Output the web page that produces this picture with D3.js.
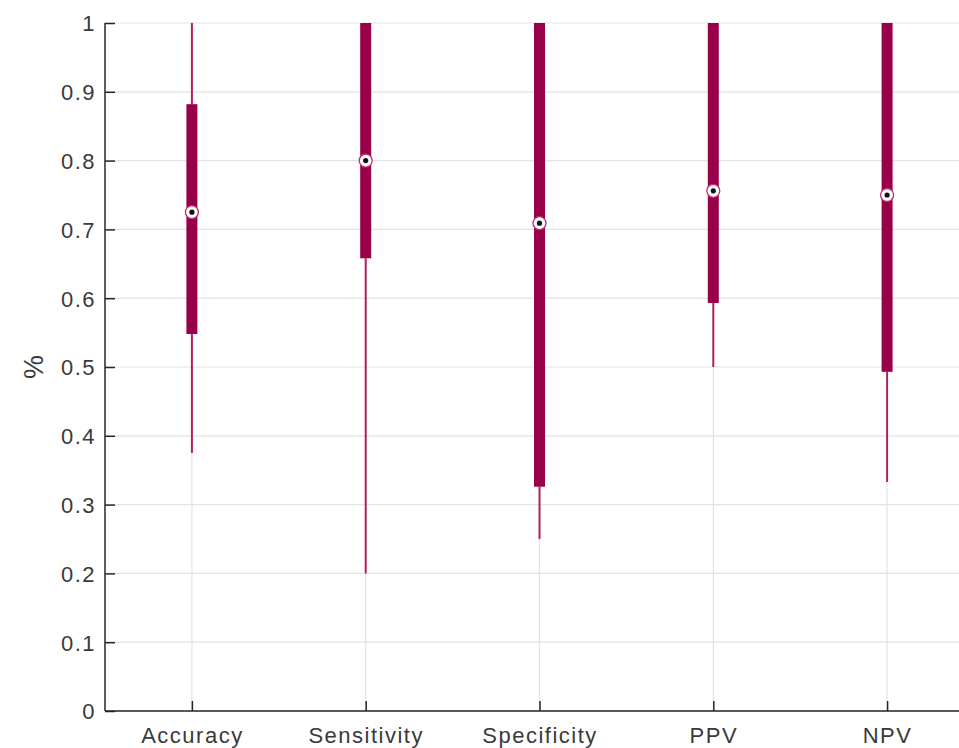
<!DOCTYPE html>
<html>
<head>
<meta charset="utf-8">
<script src="https://cdn.jsdelivr.net/npm/d3@7"></script>
<style>
  body { margin: 0; background: #fff; }
  text { font-family: 'Liberation Sans', Arial, sans-serif; }
</style>
</head>
<body>
<svg id="chart" width="959" height="748"></svg>
<script>
// categories and box statistics
const categories = ['Accuracy', 'Sensitivity', 'Specificity', 'PPV', 'NPV'];
const lowerWhisker = [0.375, 0.20, 0.25, 0.50, 0.333];
const q1 = [0.548, 0.658, 0.326, 0.593, 0.493];
const median = [0.725, 0.80, 0.709, 0.756, 0.75];
const q3 = [0.882, 1.0, 1.0, 1.0, 1.0];
const upperWhisker = [1.0, 1.0, 1.0, 1.0, 1.0];
const yTicks = [0, 0.1, 0.2, 0.3, 0.4, 0.5, 0.6, 0.7, 0.8, 0.9, 1];

const boxColor = '#98004a';
const whiskerColor = '#b0205f';

const svg = d3.select('#chart');

// scales: x positions 1..5 with limits 0.5..5.5 (right side cropped by window)
const x = d3.scaleLinear().domain([0.5, 5.5]).range([105, 974]);
const y = d3.scaleLinear().domain([0, 1]).range([711, 23]);

const data = categories.map((c, i) => ({
  name: c,
  pos: i + 1,
  lo: lowerWhisker[i],
  q1: q1[i],
  med: median[i],
  q3: q3[i],
  hi: upperWhisker[i],
}));

// grid
const grid = svg.append('g');
grid.selectAll('.hgrid')
  .data(yTicks)
  .join('line')
  .attr('x1', x(0.5))
  .attr('x2', x(5.5))
  .attr('y1', (d) => y(d))
  .attr('y2', (d) => y(d))
  .attr('stroke', '#e3e3e3')
  .attr('stroke-width', 1.2);
grid.selectAll('.vgrid')
  .data(data)
  .join('line')
  .attr('x1', (d) => x(d.pos))
  .attr('x2', (d) => x(d.pos))
  .attr('y1', y(0))
  .attr('y2', y(1))
  .attr('stroke', '#e3e3e3')
  .attr('stroke-width', 1.2);

// boxes
const boxes = svg.append('g');
const g = boxes.selectAll('g').data(data).join('g');

g.append('line')
  .attr('x1', (d) => x(d.pos))
  .attr('x2', (d) => x(d.pos))
  .attr('y1', (d) => y(d.lo))
  .attr('y2', (d) => y(d.q1))
  .attr('stroke', whiskerColor)
  .attr('stroke-width', 2);
g.append('line')
  .attr('x1', (d) => x(d.pos))
  .attr('x2', (d) => x(d.pos))
  .attr('y1', (d) => y(d.q3))
  .attr('y2', (d) => y(d.hi))
  .attr('stroke', whiskerColor)
  .attr('stroke-width', 2);

g.append('rect')
  .attr('x', (d) => x(d.pos) - 5.5)
  .attr('width', 11)
  .attr('y', (d) => y(d.q3))
  .attr('height', (d) => y(d.q1) - y(d.q3))
  .attr('fill', boxColor);

// median marker
g.append('circle')
  .attr('cx', (d) => x(d.pos))
  .attr('cy', (d) => y(d.med))
  .attr('r', 6.5)
  .attr('fill', '#fff')
  .attr('stroke', '#c0306f')
  .attr('stroke-width', 1.3);
g.append('circle')
  .attr('cx', (d) => x(d.pos))
  .attr('cy', (d) => y(d.med))
  .attr('r', 2.6)
  .attr('fill', '#111');

// axes
const axisColor = '#262626';
const yAxis = svg.append('g').attr('transform', `translate(${x(0.5)},0)`)
  .call(d3.axisLeft(y).tickValues(yTicks).tickSize(-10).tickPadding(9)
    .tickFormat((d) => d3.format('')(+d.toFixed(1))));
const xAxis = svg.append('g').attr('transform', `translate(0,${y(0)})`)
  .call(d3.axisBottom(x).tickValues(data.map((d) => d.pos)).tickSize(-10).tickPadding(16)
    .tickFormat((d, i) => categories[i]));

[yAxis, xAxis].forEach((a) => {
  a.select('.domain').attr('stroke', axisColor).attr('stroke-width', 1.5)
    .attr('d', a === yAxis ? `M0,${y(1)}V${y(0)}` : `M${x(0.5)},0H${x(5.5)}`);
  a.selectAll('.tick line').attr('stroke', axisColor).attr('stroke-width', 1.5);
  a.selectAll('.tick text')
    .attr('fill', '#3a3a3a')
    .attr('font-size', 22)
    .attr('letter-spacing', 1.5)
    .attr('font-family', "'Liberation Sans', Arial, sans-serif");
});
yAxis.selectAll('.tick text').attr('dy', '0.36em');

// y label
svg.append('text')
  .attr('transform', `translate(43,${(y(0) + y(1)) / 2}) rotate(-90)`)
  .attr('text-anchor', 'middle')
  .attr('fill', '#3a3a3a')
  .attr('font-size', 27)
  .text('%');
</script>
</body>
</html>
